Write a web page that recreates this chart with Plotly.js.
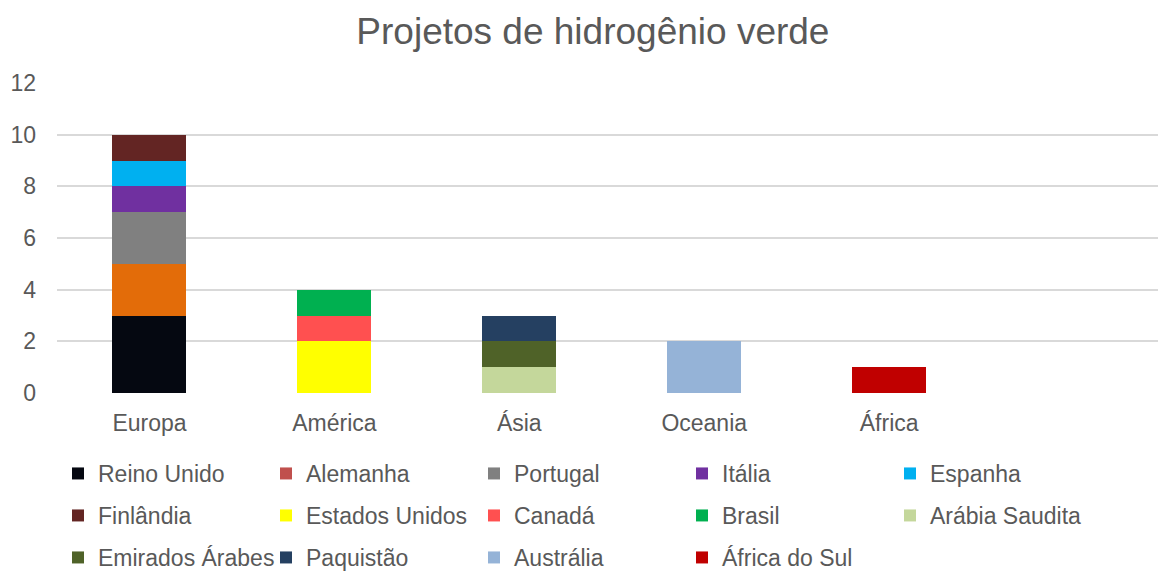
<!DOCTYPE html>
<html>
<head>
<meta charset="utf-8">
<script src="https://cdn.plot.ly/plotly-3.0.1.min.js"></script>
<style>html,body{margin:0;padding:0;background:#fff;}#chart{width:1158px;height:572px;}</style>
</head>
<body>
<div id="chart"></div>
<script>
// Data
const regions = ['Europa', 'América', 'Ásia', 'Oceania', 'África'];
const countries = ['Reino Unido', 'Alemanha', 'Portugal', 'Itália', 'Espanha',
  'Finlândia', 'Estados Unidos', 'Canadá', 'Brasil', 'Arábia Saudita',
  'Emirados Árabes', 'Paquistão', 'Austrália', 'África do Sul'];
const countryRegion = ['Europa', 'Europa', 'Europa', 'Europa', 'Europa',
  'Europa', 'América', 'América', 'América', 'Ásia',
  'Ásia', 'Ásia', 'Oceania', 'África'];
const projects = [3, 2, 2, 1, 1, 1, 2, 1, 1, 1, 1, 1, 2, 1];
const yTicks = [0, 2, 4, 6, 8, 10, 12];

// Styles
const barColors = ['#050811', '#E36C09', '#808080', '#7030A0', '#00B0F0',
  '#632523', '#FFFF00', '#FF5050', '#00B050', '#C4D79B',
  '#4F6228', '#254061', '#95B3D7', '#C00000'];
const legendColors = ['#050811', '#C0504D', '#808080', '#7030A0', '#00B0F0',
  '#632523', '#FFFF00', '#FF5050', '#00B050', '#C4D79B',
  '#4F6228', '#254061', '#95B3D7', '#C00000'];

const FONT = 'Liberation Sans, Arial, sans-serif';
const TXT = '#595959';
const PER_ROW = 5;
const legendIds = ['legend', 'legend2', 'legend3'];
const rowTops = [452, 494, 536];

const traces = countries.map((name, i) => ({
  type: 'bar',
  name: name,
  legend: legendIds[Math.floor(i / PER_ROW)],
  // first point is an empty placeholder carrying the legend swatch colour
  x: [countryRegion[i], countryRegion[i]],
  y: [null, projects[i]],
  marker: { color: [legendColors[i], barColors[i]], line: { width: 0 } },
  hoverinfo: 'name+y'
}));

function legendRow(k) {
  return {
    orientation: 'h',
    entrywidth: 163,
    entrywidthmode: 'pixels',
    traceorder: 'normal',
    xref: 'container', x: 58 / 1158, xanchor: 'left',
    yref: 'container', y: 1 - rowTops[k] / 572, yanchor: 'top',
    font: { family: FONT, color: TXT, size: 23 },
    bgcolor: 'rgba(0,0,0,0)',
    itemclick: false,
    itemdoubleclick: false
  };
}

const layout = {
  width: 1158,
  height: 572,
  paper_bgcolor: '#ffffff',
  plot_bgcolor: '#ffffff',
  margin: { l: 57, r: 0, t: 83, b: 179 },
  barmode: 'stack',
  bargap: 0.6,
  font: { family: FONT, color: TXT, size: 23 },
  title: {
    text: 'Projetos de hidrogênio verde',
    font: { family: FONT, color: TXT, size: 37 },
    xref: 'container', x: 0.512, xanchor: 'center',
    yref: 'container', y: 0.945, yanchor: 'middle'
  },
  xaxis: {
    type: 'category',
    categoryorder: 'array',
    categoryarray: regions,
    range: [-0.5, 5.454],
    showgrid: false,
    zeroline: false,
    showline: false,
    ticks: '',
    ticklabelstandoff: 14,
    tickfont: { family: FONT, color: TXT, size: 23 },
    fixedrange: true
  },
  yaxis: {
    range: [0, 12],
    tickvals: yTicks,
    ticktext: yTicks.map(String),
    showgrid: true,
    gridcolor: '#D9D9D9',
    gridwidth: 2,
    zeroline: false,
    showline: false,
    ticks: '',
    ticklabelstandoff: 20,
    tickfont: { family: FONT, color: TXT, size: 23 },
    fixedrange: true
  },
  showlegend: true,
  legend: legendRow(0),
  legend2: legendRow(1),
  legend3: legendRow(2)
};

Plotly.newPlot('chart', traces, layout, { displayModeBar: false, staticPlot: true });
</script>
</body>
</html>
